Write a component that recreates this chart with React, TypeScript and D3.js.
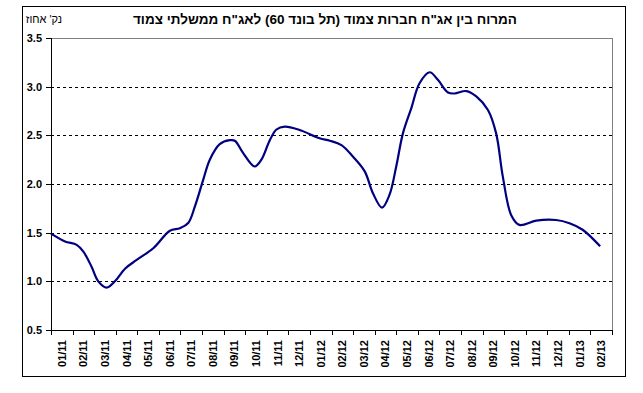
import React from "react";
import * as d3 from "d3";

const categories = [
  "01/11","02/11","03/11","04/11","05/11","06/11","07/11","08/11","09/11","10/11","11/11","12/11",
  "01/12","02/12","03/12","04/12","05/12","06/12","07/12","08/12","09/12","10/12","11/12","12/12",
  "01/13","02/13",
];
const yTicks = [0.5, 1.0, 1.5, 2.0, 2.5, 3.0, 3.5];
// position in months from start of 01/11
const months = [0, 0.65, 1.19, 1.5, 1.88, 2.19, 2.58, 2.96, 3.43, 3.97, 4.74, 5.51, 5.97, 6.36, 6.67, 7.05, 7.36, 7.82, 8.29, 8.52, 8.9, 9.44, 9.75, 10.14, 10.45, 10.83, 11.53, 12.45, 12.92, 13.46, 14.0, 14.54, 14.92, 15.34, 15.69, 16.0, 16.31, 16.7, 17.08, 17.55, 17.93, 18.4, 18.7, 19.25, 19.71, 20.25, 20.63, 20.94, 21.33, 21.71, 22.49, 23.41, 24.03, 24.64, 25.45];
const spread = [1.49, 1.41, 1.375, 1.306, 1.15, 1.0, 0.936, 1.0, 1.13, 1.22, 1.34, 1.52, 1.546, 1.6, 1.77, 2.04, 2.25, 2.41, 2.45, 2.445, 2.32, 2.18, 2.25, 2.45, 2.56, 2.59, 2.555, 2.47, 2.445, 2.4, 2.28, 2.13, 1.905, 1.758, 1.89, 2.18, 2.52, 2.78, 3.035, 3.148, 3.07, 2.94, 2.93, 2.955, 2.9, 2.76, 2.52, 2.076, 1.68, 1.58, 1.624, 1.63, 1.597, 1.53, 1.36];

const title = "המרוח בין אג\"ח חברות צמוד (תל בונד 60) לאג\"ח ממשלתי צמוד";
const yLabel = "נק' אחוז";

const W = 643, H = 393;
const L = 51, R = 612, T = 38, B = 330;
const FONT = "'Liberation Sans', Arial, 'DejaVu Sans', sans-serif";

export default function App() {
  const x = d3.scaleLinear().domain([0, categories.length]).range([L, R]);
  const y = d3.scaleLinear().domain([0.5, 3.5]).range([B, T]);
  const line = d3
    .line<number>()
    .x((_, i) => x(months[i]))
    .y((d) => y(d))
    .curve(d3.curveCatmullRom.alpha(0.5));

  return (
    <svg width={W} height={H} style={{ position: "absolute", left: 0, top: 0, display: "block" }} fontFamily={FONT}>
      <rect x={0} y={0} width={W} height={H} fill="#fff" />
      <rect x={22.5} y={6.5} width={603} height={370} fill="none" stroke="#000" strokeWidth={1} />
      <text x={325} y={24} textAnchor="middle" direction="rtl" fontSize={13.5} fontWeight="bold">{title}</text>
      <text x={44} y={23} textAnchor="middle" direction="rtl" fontSize={11}>{yLabel}</text>
      {/* plot frame top/right */}
      <line x1={L} x2={R + 0.5} y1={T + 0.5} y2={T + 0.5} stroke="#808080" />
      <line x1={R + 0.5} x2={R + 0.5} y1={T} y2={B} stroke="#808080" />
      {/* gridlines */}
      {yTicks.filter((t) => t > 0.5 && t < 3.5).map((t) => (
        <line key={t} x1={L} x2={R} y1={Math.round(y(t)) + 0.5} y2={Math.round(y(t)) + 0.5} stroke="#000" strokeDasharray="3,3" />
      ))}
      {/* y axis */}
      <line x1={L + 0.5} x2={L + 0.5} y1={T} y2={B + 0.5} stroke="#000" />
      {yTicks.map((t) => (
        <g key={t}>
          <line x1={L - 5} x2={L} y1={Math.round(y(t)) + 0.5} y2={Math.round(y(t)) + 0.5} stroke="#000" />
          <text x={42} y={y(t) + 4} textAnchor="end" fontSize={11} fontWeight="bold">{t.toFixed(1)}</text>
        </g>
      ))}
      {/* x axis */}
      <line x1={L} x2={R + 1} y1={B + 0.5} y2={B + 0.5} stroke="#000" />
      {d3.range(categories.length + 1).map((i) => (
        <line key={i} x1={Math.round(x(i)) + 0.5} x2={Math.round(x(i)) + 0.5} y1={B} y2={B + 5} stroke="#000" />
      ))}
      {categories.map((c, i) => {
        const cx = x(i + 0.5) + 4;
        return (
          <text key={c} x={cx} y={340} transform={`rotate(-90 ${cx} 340)`} textAnchor="end" fontSize={11} fontWeight="bold">{c}</text>
        );
      })}
      <path d={line(spread) || ""} fill="none" stroke="#000080" strokeWidth={2.2} />
    </svg>
  );
}
